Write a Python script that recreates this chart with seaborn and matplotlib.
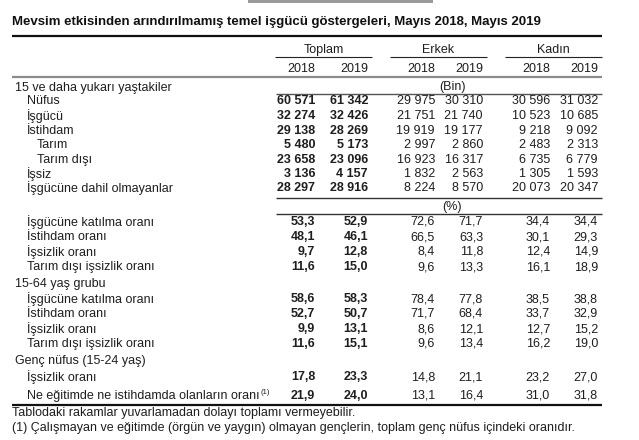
import matplotlib
matplotlib.use("Agg")
import matplotlib.pyplot as plt
import seaborn as sns
from matplotlib.patches import Rectangle

sns.set_theme(style="white")
plt.rcParams['font.family'] = ['Liberation Sans', 'DejaVu Sans']

title = "Mevsim etkisinden arındırılmamış temel işgücü göstergeleri, Mayıs 2018, Mayıs 2019"
groups = ["Toplam", "Erkek", "Kadın"]
years = ["2018", "2019"]

# rows: (label, indent level, kind) kind: 'h' header only, 'n' number, 'p' percent
labels = [
    "15 ve daha yukarı yaştakiler", "Nüfus", "İşgücü", "İstihdam", "Tarım", "Tarım dışı",
    "İşsiz", "İşgücüne dahil olmayanlar",
    "İşgücüne katılma oranı", "İstihdam oranı", "İşsizlik oranı", "Tarım dışı işsizlik oranı",
    "15-64 yaş grubu", "İşgücüne katılma oranı", "İstihdam oranı", "İşsizlik oranı",
    "Tarım dışı işsizlik oranı",
    "Genç nüfus (15-24 yaş)", "İşsizlik oranı", "Ne eğitimde ne istihdamda olanların oranı",
]
indent = [0, 1, 1, 1, 2, 2, 1, 1, 1, 1, 1, 1, 0, 1, 1, 1, 1, 0, 1, 1]
kinds = ['h', 'n', 'n', 'n', 'n', 'n', 'n', 'n', 'p', 'p', 'p', 'p', 'h', 'p', 'p', 'p', 'p', 'h', 'p', 'p']

toplam_2018 = [None, 60571, 32274, 29138, 5480, 23658, 3136, 28297, 53.3, 48.1, 9.7, 11.6,
               None, 58.6, 52.7, 9.9, 11.6, None, 17.8, 21.9]
toplam_2019 = [None, 61342, 32426, 28269, 5173, 23096, 4157, 28916, 52.9, 46.1, 12.8, 15.0,
               None, 58.3, 50.7, 13.1, 15.1, None, 23.3, 24.0]
erkek_2018 = [None, 29975, 21751, 19919, 2997, 16923, 1832, 8224, 72.6, 66.5, 8.4, 9.6,
              None, 78.4, 71.7, 8.6, 9.6, None, 14.8, 13.1]
erkek_2019 = [None, 30310, 21740, 19177, 2860, 16317, 2563, 8570, 71.7, 63.3, 11.8, 13.3,
              None, 77.8, 68.4, 12.1, 13.4, None, 21.1, 16.4]
kadin_2018 = [None, 30596, 10523, 9218, 2483, 6735, 1305, 20073, 34.4, 30.1, 12.4, 16.1,
              None, 38.5, 33.7, 12.7, 16.2, None, 23.2, 31.0]
kadin_2019 = [None, 31032, 10685, 9092, 2313, 6779, 1593, 20347, 34.4, 29.3, 14.9, 18.9,
              None, 38.8, 32.9, 15.2, 19.0, None, 27.0, 31.8]

notes = ["Tablodaki rakamlar yuvarlamadan dolayı toplamı vermeyebilir.",
         "(1) Çalışmayan ve eğitimde (örgün ve yaygın) olmayan gençlerin, toplam genç nüfus içindeki oranıdır."]

# ---------------- layout ----------------
W, H = 639, 440
fig = plt.figure(figsize=(W / 100, H / 100), dpi=100)
ax = fig.add_axes([0, 0, 1, 1])
ax.set_xlim(0, W)
ax.set_ylim(H, 0)
ax.axis('off')

TXT = "#1e1e1e"
FS = 9
L, R = 12, 602

row_y = [88, 101, 116, 131, 145, 160, 174, 188, 222, 237, 252, 267, 284, 299, 314, 329, 344,
         361, 377, 396]
col_right = [315, 368, 435, 483, 550, 598]
group_spans = [(275, 372), (390, 487), (505, 602)]
indent_x = [15, 27, 37]

# cropped artifact at very top
ax.add_patch(Rectangle((248, 0), 185, 3, color="#9a9a9a", lw=0))

ax.text(L, 22, title, fontsize=9.5, fontweight='bold', color="#111111", va='center', ha='left')
ax.plot([L, R], [36, 36], color="#111111", lw=1.6, solid_capstyle='butt')

for g, (a, b) in zip(groups, group_spans):
    ax.text((a + b) / 2, 50, g, fontsize=FS, color=TXT, ha='center', va='center')
    ax.plot([a, b], [57.5, 57.5], color="#222222", lw=0.8, solid_capstyle='butt')
for i, xr in enumerate(col_right):
    ax.text(xr, 69, years[i % 2], fontsize=FS, color=TXT, ha='right', va='center')
ax.plot([L, R], [77, 77], color="#8c8c8c", lw=1.6, solid_capstyle='butt')

ax.text(452, 87, "(Bin)", fontsize=FS, color=TXT, ha='center', va='center')
ax.plot([276, R], [94.5, 94.5], color="#555555", lw=1.0, solid_capstyle='butt')
ax.plot([276, R], [198.5, 198.5], color="#333333", lw=1.0, solid_capstyle='butt')
ax.text(452, 207, "(%)", fontsize=FS, color=TXT, ha='center', va='center')
ax.plot([276, R], [214.5, 214.5], color="#333333", lw=1.0, solid_capstyle='butt')


def fmt(v, kind):
    if v is None:
        return ""
    if kind == 'n':
        return f"{v:,}".replace(",", " ")
    return f"{v:.1f}".replace(".", ",")


cols = [toplam_2018, toplam_2019, erkek_2018, erkek_2019, kadin_2018, kadin_2019]
for r, lab in enumerate(labels):
    y = row_y[r]
    t = ax.text(indent_x[indent[r]], y, lab, fontsize=FS, color=TXT, ha='left', va='center')
    if r == len(labels) - 1:
        fig.canvas.draw()
        bb = t.get_window_extent()
        xe = bb.x1
        ax.text(xe + 1, y - 4, "(1)", fontsize=5.5, color=TXT, ha='left', va='center')
    for c, data in enumerate(cols):
        s = fmt(data[r], kinds[r])
        if s:
            ax.text(col_right[c], y, s, fontsize=FS, color=TXT, ha='right', va='center',
                    fontweight='bold' if c < 2 else 'normal')

ax.plot([L, R], [405, 405], color="#111111", lw=1.6, solid_capstyle='butt')
ax.text(L, 413, notes[0], fontsize=FS, color=TXT, ha='left', va='center')
ax.text(L, 428, notes[1], fontsize=FS, color=TXT, ha='left', va='center')

fig.savefig("out.png", dpi=100, facecolor='white')
